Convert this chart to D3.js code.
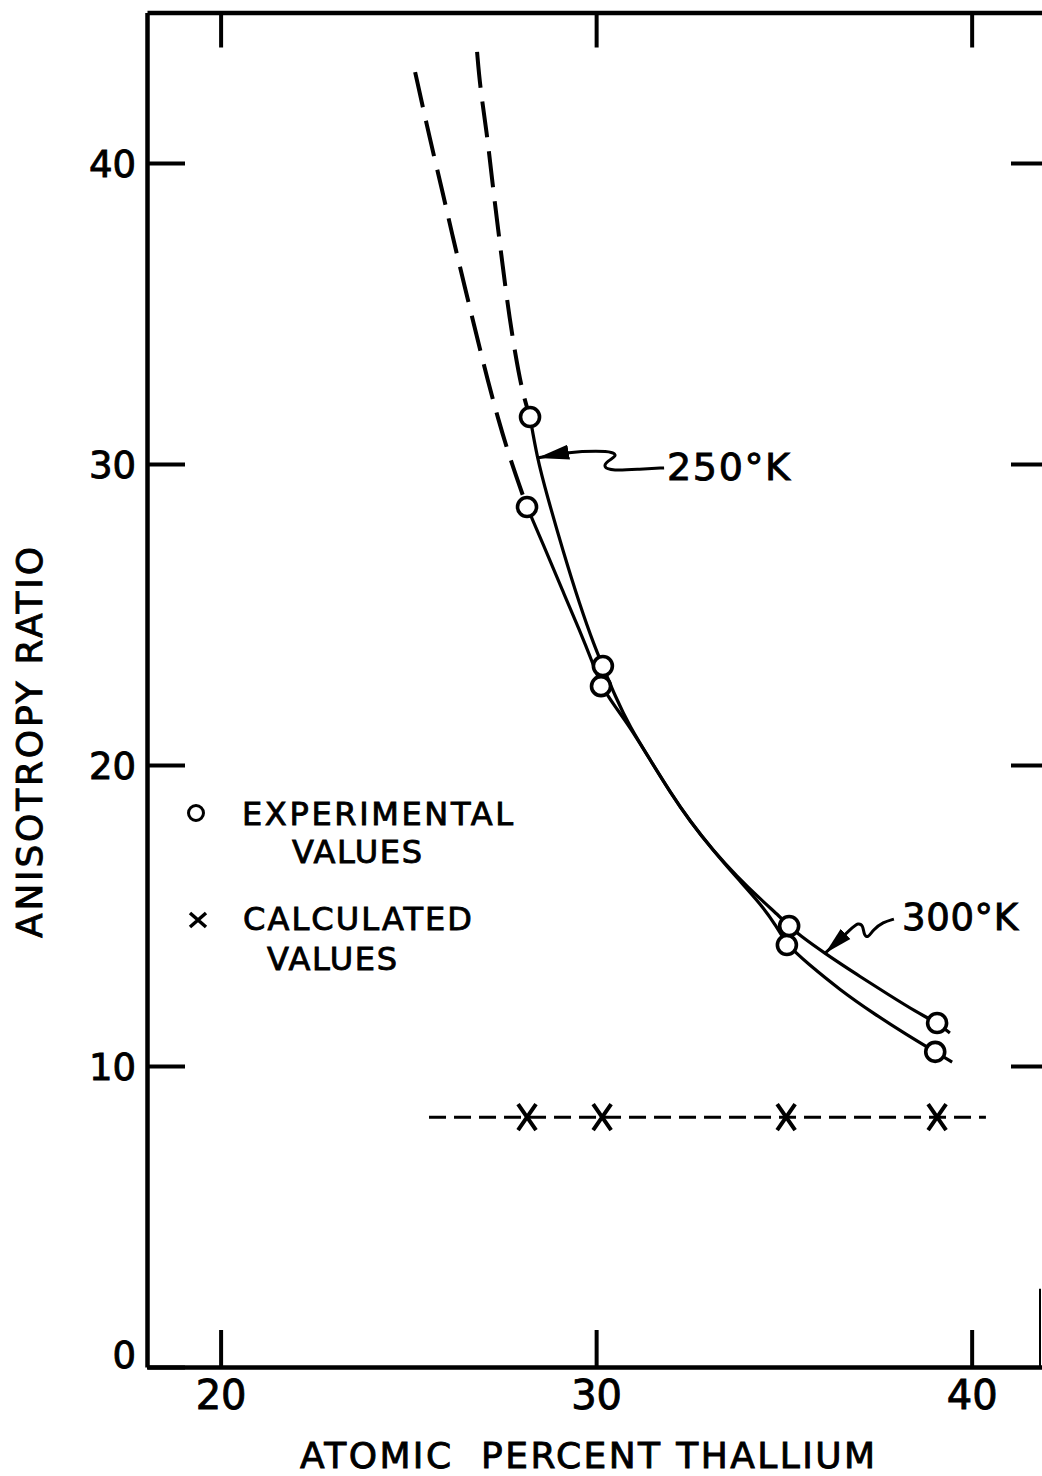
<!DOCTYPE html>
<html><head><meta charset="utf-8">
<script src="https://cdn.jsdelivr.net/npm/d3@7"></script>
<style>
html,body{margin:0;padding:0;background:#fff;}
svg{display:block;}
text{font-family:"DejaVu Sans",sans-serif;fill:#000;stroke:#000;stroke-width:0.9px;}
</style></head><body>
<script>
// ---------- data ----------
const xTicks = [20, 30, 40];
const yTicks = [0, 10, 20, 30, 40];
const xTitle = "ATOMIC  PERCENT THALLIUM";
const yTitle = "ANISOTROPY RATIO";

// experimental points (atomic % Tl, anisotropy ratio)
const exp250 = [[28.24, 31.56], [30.18, 23.29], [35.08, 14.02], [39.03, 10.47]];
const exp300 = [[28.16, 28.57], [30.13, 22.62], [35.14, 14.65], [39.08, 11.43]];
// calculated values
const calcX = [28.16, 30.16, 35.06, 39.08];
const calcY = [8.3, 8.3, 8.3, 8.3];
const calcLineX = [25.55, 40.38];

// drawn curves
const curve250Dashed = [[26.83, 43.69], [26.91, 42.52], [27.09, 41.0], [27.23, 39.44], [27.37, 38.0], [27.51, 36.6], [27.66, 35.15], [27.84, 33.69], [28.05, 32.3], [28.24, 31.56]];
const curve250Solid = [[28.24, 31.56], [28.43, 30.2], [28.69, 28.97], [29.12, 27.1], [29.57, 25.3], [29.97, 23.9], [30.18, 23.29], [30.5, 22.3], [30.9, 21.26], [31.44, 20.17], [31.97, 19.1], [32.5, 18.13], [33.11, 17.17], [33.75, 16.25], [34.37, 15.4], [34.8, 14.65], [35.08, 14.02], [35.62, 13.42], [36.5, 12.52], [37.37, 11.76], [38.28, 11.03], [39.03, 10.47], [39.48, 10.13]];
const curve300Dashed = [[25.18, 43.02], [25.58, 40.76], [25.9, 39.1], [26.19, 37.5], [26.5, 35.9], [26.83, 34.2], [27.12, 32.75], [27.39, 31.5], [27.7, 30.2], [28.16, 28.57]];
const curve300Solid = [[28.16, 28.57], [28.69, 27.04], [29.12, 25.75], [29.57, 24.45], [29.89, 23.45], [30.13, 22.62], [30.5, 21.95], [30.9, 21.26], [31.44, 20.17], [31.97, 19.1], [32.5, 18.13], [33.11, 17.17], [33.75, 16.3], [34.37, 15.55], [34.9, 14.95], [35.14, 14.65], [35.41, 14.35], [36.08, 13.75], [36.93, 13.05], [37.81, 12.35], [38.52, 11.8], [39.08, 11.43], [39.42, 11.1]];

// annotation leaders
const leader250 = [[31.81, 29.87], [31.17, 29.83], [30.42, 29.77], [30.18, 29.9], [30.3, 30.1], [30.56, 30.27], [30.45, 30.4], [30.05, 30.43], [29.3, 30.4], [28.43, 30.2]];
const leader300 = [[37.93, 14.88], [37.64, 14.78], [37.37, 14.52], [37.24, 14.25], [37.13, 14.35], [37.11, 14.68], [36.97, 14.75], [36.84, 14.62], [36.1, 13.75]];
const label250 = "250°K";
const label300 = "300°K";
const legendLabels = ["EXPERIMENTAL", "VALUES", "CALCULATED", "VALUES"];

// ---------- layout ----------
const W = 1042, H = 1476;
const xDomain = [18.04, 41.9];
const yDomain = [0, 45];
const x = d3.scaleLinear().domain(xDomain).range([147, 1043]);
const y = d3.scaleLinear().domain(yDomain).range([1367, 12.5]);

const svg = d3.select("body").append("svg").attr("width", W).attr("height", H);
svg.append("rect").attr("width", W).attr("height", H).attr("fill", "#fff");

const defs = svg.append("defs");
defs.append("marker").attr("id", "arr").attr("viewBox", "0 -8 32 16")
  .attr("refX", 32).attr("refY", 0).attr("markerUnits", "userSpaceOnUse")
  .attr("markerWidth", 32).attr("markerHeight", 16).attr("orient", "auto")
  .append("path").attr("d", "M0,-7.5L32,0L0,7.5Z").attr("fill", "#000");
defs.append("marker").attr("id", "arr2").attr("viewBox", "0 -8 28 16")
  .attr("refX", 28).attr("refY", 0).attr("markerUnits", "userSpaceOnUse")
  .attr("markerWidth", 28).attr("markerHeight", 16).attr("orient", "auto")
  .append("path").attr("d", "M0,-7L28,0L0,7Z").attr("fill", "#000");

// ---------- axes ----------
function styleAxis(g) {
  g.selectAll(".domain").attr("stroke", "#000").attr("stroke-width", 4.5);
  g.selectAll(".tick line").attr("stroke", "#000").attr("stroke-width", 4);
}
const gB = svg.append("g").attr("transform", `translate(0,${y(0)})`)
  .call(d3.axisBottom(x).tickValues(xTicks).tickSizeInner(-37).tickSizeOuter(0).tickPadding(14));
styleAxis(gB);
gB.selectAll(".tick text").attr("font-family", "'Liberation Sans', sans-serif").attr("font-size", 40).attr("fill", "#000");

const gL = svg.append("g").attr("transform", `translate(${x(xDomain[0])},0)`)
  .call(d3.axisLeft(y).tickValues(yTicks).tickSizeInner(-38).tickSizeOuter(0).tickPadding(11));
styleAxis(gL);
gL.selectAll(".tick text").attr("font-size", 37).attr("fill", "#000")
  .attr("dy", d => d === 0 ? "0.02em" : "0.36em");

const gT = svg.append("g").attr("transform", `translate(0,${y(yDomain[1])})`)
  .call(d3.axisTop(x).tickValues(xTicks).tickSizeInner(-35).tickSizeOuter(0).tickFormat(""));
styleAxis(gT);

const gR = svg.append("g").attr("transform", `translate(${x(xDomain[1])},0)`)
  .call(d3.axisRight(y).tickValues(yTicks.filter(v => v > 0)).tickSizeInner(-32).tickSizeOuter(0).tickFormat(""));
styleAxis(gR);
gR.select(".domain").remove();
// visible piece of the right frame at the bottom edge
svg.append("line").attr("x1", 1040).attr("x2", 1040).attr("y1", y(2.6)).attr("y2", y(0))
  .attr("stroke", "#000").attr("stroke-width", 2);

// axis titles
svg.append("text").attr("x", 300).attr("y", 1468).attr("font-size", 36)
  .attr("textLength", 575).attr("lengthAdjust", "spacing").style("white-space", "pre").text(xTitle);
svg.append("text").attr("transform", "translate(42,938) rotate(-90)").attr("font-size", 36)
  .attr("textLength", 391).attr("lengthAdjust", "spacing").text(yTitle);

// ---------- curves ----------
const line = d3.line().x(d => x(d[0])).y(d => y(d[1])).curve(d3.curveBasis);
const plot = svg.append("g").attr("fill", "none").attr("stroke", "#000");
plot.append("path").datum(curve250Dashed).attr("d", line).attr("stroke-width", 4).attr("stroke-dasharray", "36,14");
plot.append("path").datum(curve300Dashed).attr("d", line).attr("stroke-width", 4).attr("stroke-dasharray", "36,14");
plot.append("path").datum(curve250Solid).attr("d", line).attr("stroke-width", 3.2);
plot.append("path").datum(curve300Solid).attr("d", line).attr("stroke-width", 3.2);

// calculated line + marks
plot.append("line").attr("x1", x(calcLineX[0])).attr("x2", x(calcLineX[1]))
  .attr("y1", y(calcY[0])).attr("y2", y(calcY[0]))
  .attr("stroke-width", 3).attr("stroke-dasharray", "17,8");
const calc = calcX.map((v, i) => [v, calcY[i]]);
svg.append("g").selectAll("path").data(calc).join("path")
  .attr("d", d => {
    const cx = x(d[0]), cy = y(d[1]);
    return `M${cx - 9},${cy - 13}L${cx + 9},${cy + 13}M${cx + 9},${cy - 13}L${cx - 9},${cy + 13}`;
  })
  .attr("stroke", "#000").attr("stroke-width", 4).attr("fill", "none");

// experimental circles
svg.append("g").selectAll("circle").data(exp250.concat(exp300)).join("circle")
  .attr("cx", d => x(d[0])).attr("cy", d => y(d[1])).attr("r", 9.5)
  .attr("fill", "#fff").attr("stroke", "#000").attr("stroke-width", 3.6);

// ---------- annotations ----------
const lineA = d3.line().x(d => x(d[0])).y(d => y(d[1])).curve(d3.curveBasis);
svg.append("path").datum(leader250).attr("d", lineA).attr("fill", "none")
  .attr("stroke", "#000").attr("stroke-width", 3).attr("marker-end", "url(#arr)");
svg.append("path").datum(leader300).attr("d", lineA).attr("fill", "none")
  .attr("stroke", "#000").attr("stroke-width", 3).attr("marker-end", "url(#arr2)");
svg.append("text").attr("x", 667).attr("y", 480).attr("font-size", 38)
  .attr("textLength", 123).attr("lengthAdjust", "spacing").text(label250);
svg.append("text").attr("x", 902).attr("y", 930).attr("font-size", 37)
  .attr("textLength", 116).attr("lengthAdjust", "spacing").text(label300);

// ---------- legend ----------
svg.append("circle").attr("cx", 196).attr("cy", 813).attr("r", 7.5)
  .attr("fill", "#fff").attr("stroke", "#000").attr("stroke-width", 3);
svg.append("path").attr("d", "M190,913L206,927M206,913L190,927")
  .attr("stroke", "#000").attr("stroke-width", 3.5).attr("fill", "none");
const legPos = [[242, 825, 271], [292, 863, 130], [243, 930, 229], [267, 970, 130]];
legendLabels.forEach((t, i) => {
  svg.append("text").attr("x", legPos[i][0]).attr("y", legPos[i][1]).attr("font-size", 32)
    .attr("textLength", legPos[i][2]).attr("lengthAdjust", "spacing").text(t);
});
</script>
</body></html>
